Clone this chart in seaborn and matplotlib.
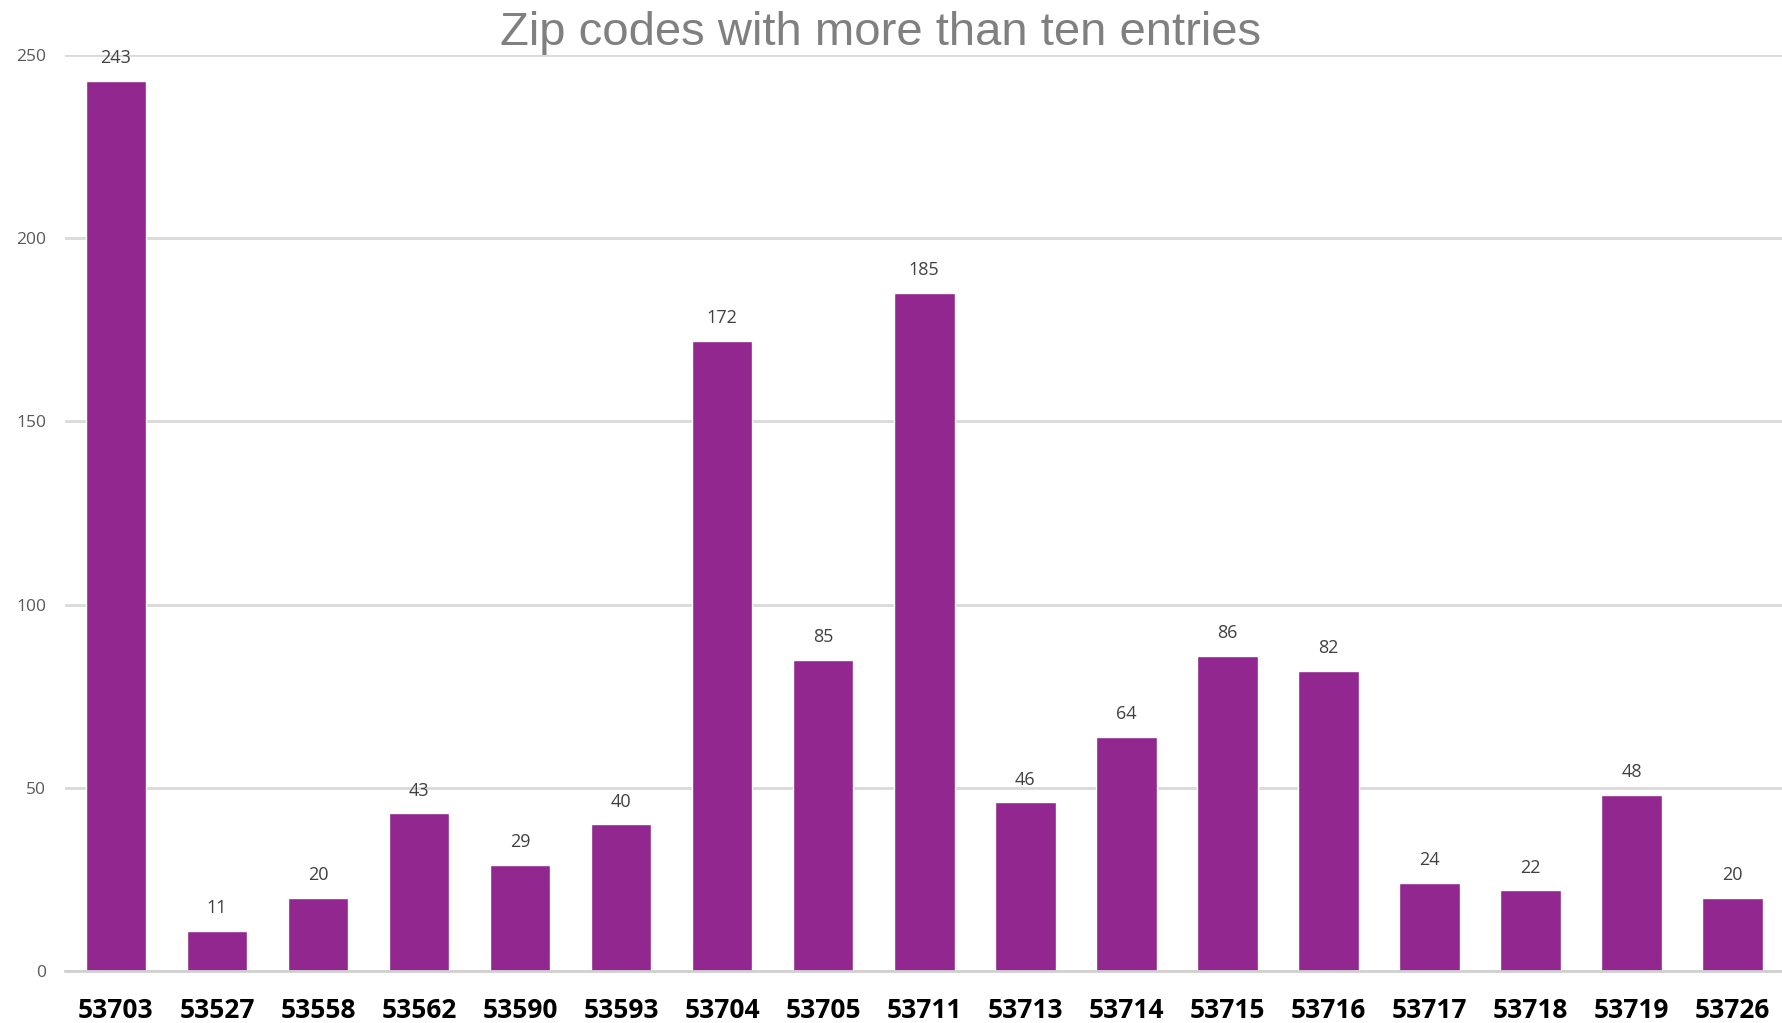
import matplotlib
matplotlib.use("Agg")
import matplotlib.pyplot as plt
import seaborn as sns
import pandas as pd

zip_codes = ["53703", "53527", "53558", "53562", "53590", "53593", "53704",
             "53705", "53711", "53713", "53714", "53715", "53716", "53717",
             "53718", "53719", "53726"]
entries = [243, 11, 20, 43, 29, 40, 172, 85, 185, 46, 64, 86, 82, 24, 22, 48, 20]
y_ticks = [0, 50, 100, 150, 200, 250]

df = pd.DataFrame({"zip": zip_codes, "entries": entries})

sns.set_style("white")
plt.rcParams["font.family"] = ["Open Sans", "DejaVu Sans"]

fig = plt.figure(figsize=(17.83, 10.23), dpi=100)
ax = fig.add_axes([0.0367, 0.0508, 0.9633, 0.8955])

sns.barplot(data=df, x="zip", y="entries", order=zip_codes, color="#92278f",
            saturation=1, width=0.6, ax=ax)

ax.set_ylim(0, 250)
ax.set_yticks(y_ticks)
ax.yaxis.grid(True, color="#d9d9d9", linewidth=2)
ax.set_axisbelow(True)
for side in ["left", "right", "top"]:
    ax.spines[side].set_visible(False)
ax.spines["bottom"].set_color("#d0d0d0")
ax.spines["bottom"].set_linewidth(2)
ax.set_xlabel("")
ax.set_ylabel("")
ax.tick_params(axis="both", length=0)
ax.tick_params(axis="y", labelsize=12.5, labelcolor="#595959", pad=14)
ax.tick_params(axis="x", labelsize=19, labelcolor="black", pad=19)
for lbl in ax.get_xticklabels():
    lbl.set_fontweight("bold")

for i, v in enumerate(entries):
    ax.annotate(str(v), (i, v), xytext=(0, 10), textcoords="offset points",
                ha="center", va="bottom", fontsize=13, color="#404040")

fig.text(0.494, 0.968, "Zip codes with more than ten entries", ha="center",
         va="center", fontsize=34, color="#808080", family="Liberation Sans")

fig.savefig("out.png", dpi=100)
